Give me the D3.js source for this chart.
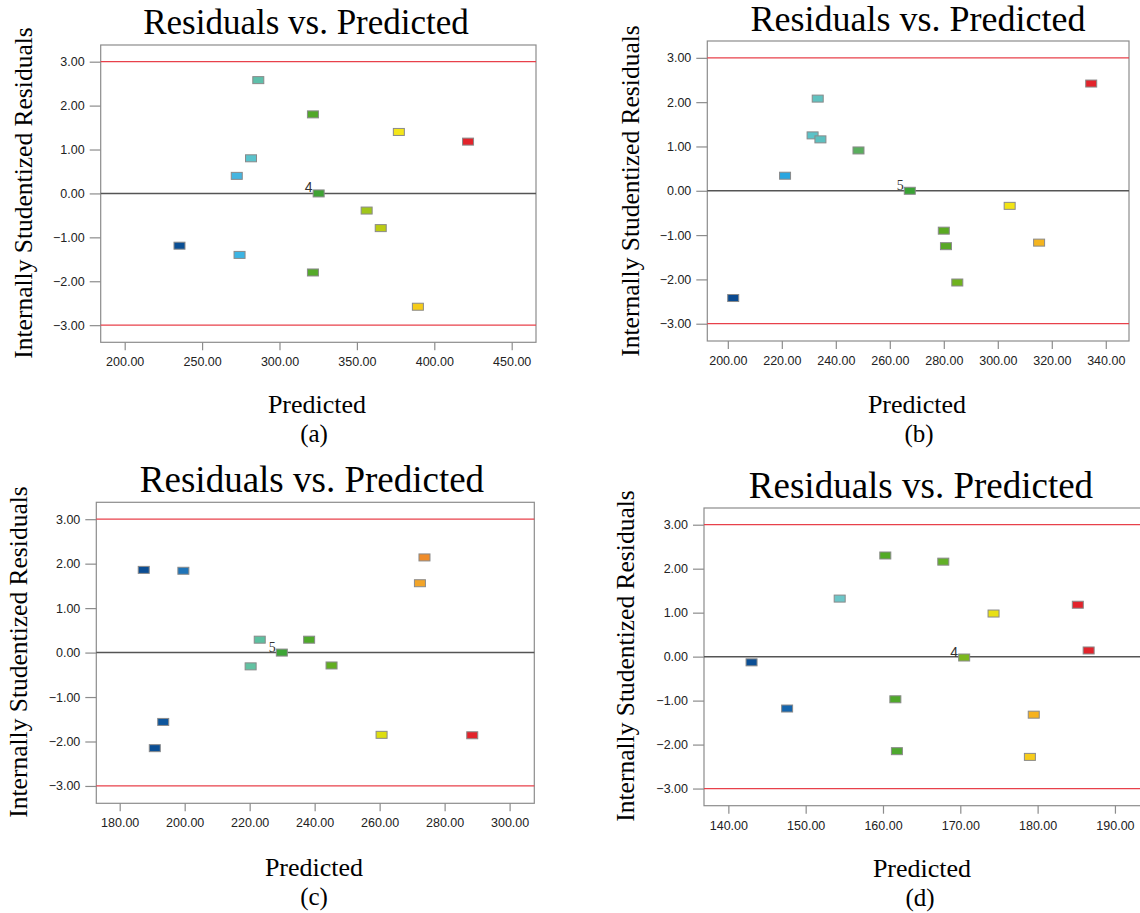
<!DOCTYPE html>
<html>
<head>
<meta charset="utf-8">
<script src="https://cdn.jsdelivr.net/npm/d3@7"></script>
<style>
  body { margin: 0; background: #fff; }
  .tick text { font-family: "Liberation Sans", Arial, sans-serif; font-size: 12.5px; fill: #222; }
  .tick line { stroke: #8c8c8c; stroke-width: 1.2; }
</style>
</head>
<body>
<svg id="chart" width="1140" height="913"></svg>
<script>
// values
var yTicks = [-3, -2, -1, 0, 1, 2, 3];
var yDomain = [-3.39, 3.38];

var predA = [235.4, 272.4, 274.2, 281.6, 286.3, 321.6, 321.6, 325.3, 356.3, 365.4, 377.1, 389.4, 421.8];
var residA = [-1.19, 0.40, -1.40, 0.80, 2.58, 1.80, -1.80, 0.00, -0.39, -0.79, 1.40, -2.58, 1.18];
var colorsA = ["#0b4f94", "#45b5e0", "#3cb4e3", "#5ac3cc", "#5ebfaa", "#52a82a", "#55aa2a", "#3fa334", "#a0c61a", "#bccc12", "#f4e61a", "#f6cc19", "#e2232b"];
var xTicksA = [200, 250, 300, 350, 400, 450];
var xDomainA = [184.5, 465.7];

var predB = [202.0, 221.2, 231.4, 233.3, 234.3, 248.4, 267.4, 280.0, 280.8, 285.0, 304.4, 315.3, 334.6];
var residB = [-2.42, 0.34, 1.25, 2.08, 1.16, 0.91, 0.00, -0.90, -1.25, -2.07, -0.34, -1.17, 2.42];
var colorsB = ["#0a4a90", "#2aa6e0", "#5bc2c8", "#60c2c0", "#5cc0c0", "#5aae5e", "#3aa335", "#5aaa22", "#58a825", "#6fb21e", "#f2e414", "#f4b41e", "#e2232b"];
var xTicksB = [200, 220, 240, 260, 280, 300, 320, 340];
var xDomainB = [192.4, 348.6];

var predC = [187.4, 199.6, 193.4, 190.8, 223.1, 220.3, 229.9, 238.3, 245.2, 260.6, 272.4, 273.8, 288.5];
var residC = [1.86, 1.84, -1.56, -2.15, 0.29, -0.31, 0.00, 0.29, -0.29, -1.85, 1.56, 2.14, -1.86];
var colorsC = ["#0b4d93", "#1f74b8", "#0d559c", "#0b4f95", "#5cc0a0", "#62c2a2", "#3da536", "#4eaa2a", "#62ae22", "#dede10", "#f2a428", "#ef8c2a", "#e2232b"];
var xTicksC = [180, 200, 220, 240, 260, 280, 300];
var xDomainC = [172.8, 307.6];

var predD = [143.0, 147.6, 154.4, 160.3, 161.6, 161.8, 167.8, 170.5, 174.3, 179.5, 179.0, 185.2, 186.6];
var residD = [-0.13, -1.18, 1.32, 2.30, -0.97, -2.15, 2.16, -0.02, 0.98, -1.32, -2.28, 1.18, 0.14];
var colorsD = ["#0b4f95", "#1565ad", "#6cc6c8", "#52aa26", "#4fa82a", "#4ea82e", "#62b028", "#7cb81e", "#e8e014", "#f6b21e", "#f7cc1a", "#e2232b", "#e2232b"];
var xTicksD = [140, 150, 160, 170, 180, 190];
var xDomainD = [136.85, 193.5];

// flagged run number and the point it sits next to
var flagIndex = [7, 6, 6, 7];
var flagText = ["4", "5", "5", "4"];
var subLabels = ["(a)", "(b)", "(c)", "(d)"];

var serif = '"Liberation Serif", "Times New Roman", serif';
var sans = '"Liberation Sans", Arial, sans-serif';
var fmt = d3.format(".2f");

var panels = [
  {pred: predA, resid: residA, colors: colorsA, xTicks: xTicksA, xDomain: xDomainA,
   box: [100.7, 45, 536, 342.3], title: [306, 34], yLab: [32, 193], xLab: [317, 413], sub: [314, 442], flagFont: sans},
  {pred: predB, resid: residB, colors: colorsB, xTicks: xTicksB, xDomain: xDomainB,
   box: [707.3, 41, 1129, 341], title: [918, 31], yLab: [639, 191], xLab: [917, 413], sub: [919, 442], flagFont: serif},
  {pred: predC, resid: residC, colors: colorsC, xTicks: xTicksC, xDomain: xDomainC,
   box: [96.3, 502.3, 534.3, 803.3], title: [312, 492], yLab: [27, 652], xLab: [314, 876], sub: [314, 905], flagFont: serif},
  {pred: predD, resid: residD, colors: colorsD, xTicks: xTicksD, xDomain: xDomainD,
   box: [704, 508, 1142, 805.7], title: [921, 498], yLab: [634, 656], xLab: [922, 877], sub: [920, 906], flagFont: sans}
];
var titleSize = ["35px", "36px", "37px", "37px"];

var svg = d3.select("#chart");

panels.forEach(function(p, k) {
  var b = p.box;
  var x = d3.scaleLinear().domain(p.xDomain).range([b[0], b[2]]);
  var y = d3.scaleLinear().domain(yDomain).range([b[3], b[1]]);
  var g = svg.append("g").attr("class", "panel");

  g.append("rect").attr("x", b[0]).attr("y", b[1])
    .attr("width", b[2] - b[0]).attr("height", b[3] - b[1])
    .attr("fill", "#fff").attr("stroke", "#8c8c8c").attr("stroke-width", 1.2);

  var yAxis = g.append("g").attr("transform", "translate(" + b[0] + ",0)")
    .call(d3.axisLeft(y).tickValues(yTicks).tickFormat(fmt).tickSize(11).tickPadding(5));
  yAxis.select(".domain").remove();

  var xAxis = g.append("g").attr("transform", "translate(0," + b[3] + ")")
    .call(d3.axisBottom(x).tickValues(p.xTicks).tickFormat(fmt).tickSize(8));
  xAxis.select(".domain").remove();
  xAxis.selectAll("text").attr("y", 15);

  // +/-3 limits and zero line
  g.selectAll("line.limit").data([3, -3]).enter().append("line").attr("class", "limit")
    .attr("x1", b[0]).attr("x2", b[2])
    .attr("y1", function(d) { return y(d); }).attr("y2", function(d) { return y(d); })
    .attr("stroke", "#e8404a").attr("stroke-width", 1.2);
  g.append("line").attr("x1", b[0]).attr("x2", b[2]).attr("y1", y(0)).attr("y2", y(0))
    .attr("stroke", "#555").attr("stroke-width", 1.5);

  g.selectAll("rect.pt").data(p.pred).enter().append("rect").attr("class", "pt")
    .attr("x", function(d) { return x(d) - 5.5; })
    .attr("y", function(d, i) { return y(p.resid[i]) - 3.5; })
    .attr("width", 11).attr("height", 7)
    .attr("fill", function(d, i) { return p.colors[i]; })
    .attr("stroke", "#8a8a8a").attr("stroke-width", 1);

  var fi = flagIndex[k];
  g.append("text").attr("x", x(p.pred[fi]) - 6).attr("y", y(p.resid[fi]) - 1)
    .attr("text-anchor", "end").style("font-family", p.flagFont).style("font-size", "14px")
    .attr("fill", "#333").text(flagText[k]);

  g.append("text").attr("x", p.title[0]).attr("y", p.title[1]).attr("text-anchor", "middle")
    .style("font-family", serif).style("font-size", titleSize[k]).text("Residuals vs. Predicted");

  g.append("text").attr("transform", "translate(" + p.yLab[0] + "," + p.yLab[1] + ") rotate(-90)")
    .attr("text-anchor", "middle").style("font-family", serif).style("font-size", "25.5px")
    .text("Internally Studentized Residuals");

  g.append("text").attr("x", p.xLab[0]).attr("y", p.xLab[1]).attr("text-anchor", "middle")
    .style("font-family", serif).style("font-size", "26px").text("Predicted");

  g.append("text").attr("x", p.sub[0]).attr("y", p.sub[1]).attr("text-anchor", "middle")
    .style("font-family", serif).style("font-size", "25px").text(subLabels[k]);
});
</script>
</body>
</html>
